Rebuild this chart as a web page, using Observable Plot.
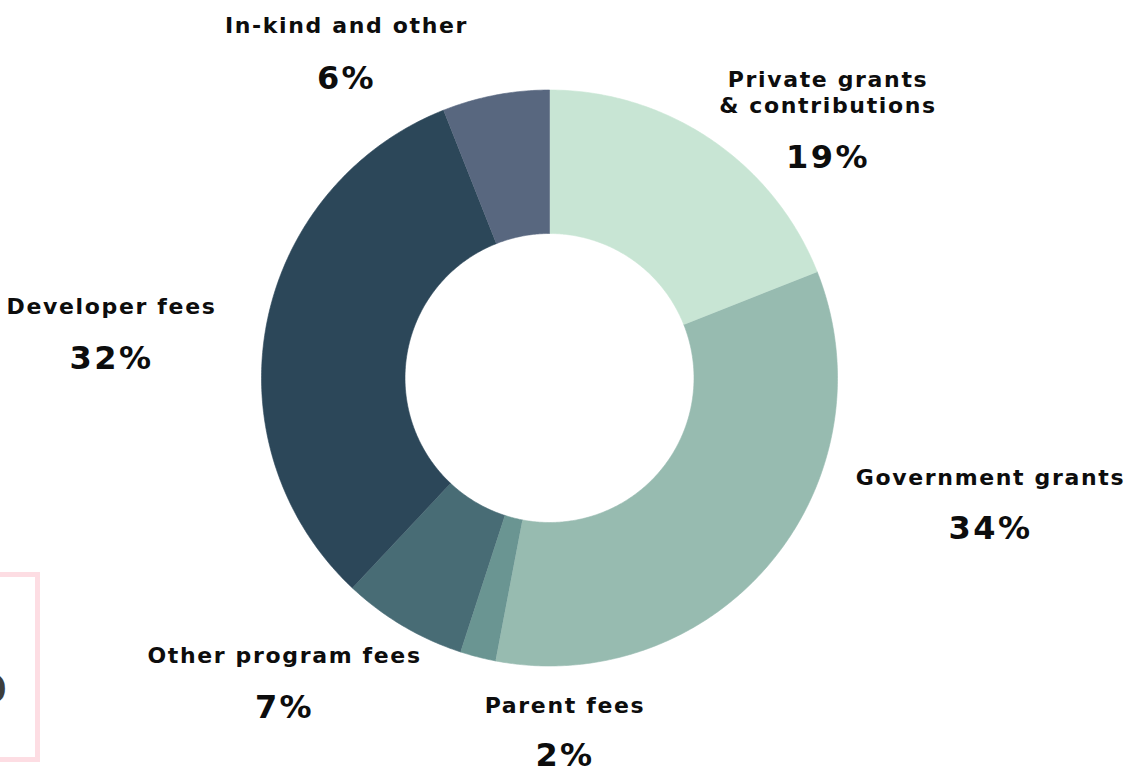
<!DOCTYPE html>
<html>
<head>
<meta charset="utf-8">
<script src="https://cdn.jsdelivr.net/npm/d3@7"></script>
<script src="https://cdn.jsdelivr.net/npm/@observablehq/plot@0.6"></script>
<style>
  html, body { margin: 0; padding: 0; background: #fff; overflow: hidden; }
  #chart svg { display: block; }
  #chart text { letter-spacing: 0.075em; }
</style>
</head>
<body>
<div id="chart"></div>
<script>
// ---- data ----
const categories = ["Private grants\n& contributions", "Government grants", "Parent fees", "Other program fees", "Developer fees", "In-kind and other"];
const shares = [19, 34, 2, 7, 32, 6];
const colors = ["#c8e5d4", "#97bbb0", "#6a9592", "#486c75", "#2c4759", "#58677f"];

// ---- layout (pixels) ----
const W = 1139, H = 773;
const center = {x: 549, y: 377.5};
const outerR = 288, innerR = 144.5;
// label anchor positions: name x, name baseline y, pct baseline y
const labelX = [827.5, 990, 564.5, 284, 111, 346];
const nameY = [112, 484, 712, 662, 313, 32];
const pctY = [167, 538, 765, 717, 368, 88];
const boxX = [-10, 37.5], boxY = [574.5, 759.5];

// ---- slice geometry from values ----
const pie = d3.pie().sort(null).value(d => d.value).startAngle(0).endAngle(2 * Math.PI);
const data = categories.map((c, i) => ({name: c, value: shares[i], color: colors[i]}));
const arcs = pie(data);
const pts = [];
arcs.forEach((a, i) => {
  const n = Math.max(4, Math.ceil((a.endAngle - a.startAngle) / 0.01));
  for (let k = 0; k <= n; k++) {
    const t = a.startAngle + (a.endAngle - a.startAngle) * k / n;
    pts.push({i, x: center.x + outerR * Math.sin(t), y: center.y - outerR * Math.cos(t)});
  }
  for (let k = n; k >= 0; k--) {
    const t = a.startAngle + (a.endAngle - a.startAngle) * k / n;
    pts.push({i, x: center.x + innerR * Math.sin(t), y: center.y - innerR * Math.cos(t)});
  }
});

const labels = data.map((d, i) => ({name: d.name, pct: d.value + "%", x: labelX[i], ny: nameY[i], py: pctY[i]}));

const font = "'DejaVu Sans', sans-serif";

const chart = Plot.plot({
  width: W, height: H,
  margin: 0,
  x: {domain: [0, W], range: [0, W], axis: null},
  y: {domain: [0, H], range: [0, H], axis: null},
  style: {fontFamily: font, background: "#fff"},
  marks: [
    Plot.rect([{x1: boxX[0], x2: boxX[1], y1: boxY[0], y2: boxY[1]}], {x1: "x1", x2: "x2", y1: "y1", y2: "y2", fill: "none", stroke: "#fddde3", strokeWidth: 5}),
    Plot.text(["0"], {x: () => 9, y: () => 701, text: d => d, textAnchor: "end", lineAnchor: "bottom", fontSize: 38, fontWeight: 700, fill: "#3d3d3b"}),
    Plot.line(pts, {x: "x", y: "y", z: "i", fill: d => colors[d.i], stroke: d => colors[d.i], strokeWidth: 0.6, curve: "linear"}),
    Plot.text(labels, {x: "x", y: "ny", text: "name", textAnchor: "middle", lineAnchor: "bottom", lineHeight: 1.18, fontSize: 22, fontWeight: 700, fill: "#0d0d0d", lineWidth: 100}),
    Plot.text(labels, {x: "x", y: "py", text: "pct", textAnchor: "middle", lineAnchor: "bottom", fontSize: 32, fontWeight: 700, fill: "#0d0d0d"})
  ]
});
document.getElementById("chart").appendChild(chart);
</script>
</body>
</html>
